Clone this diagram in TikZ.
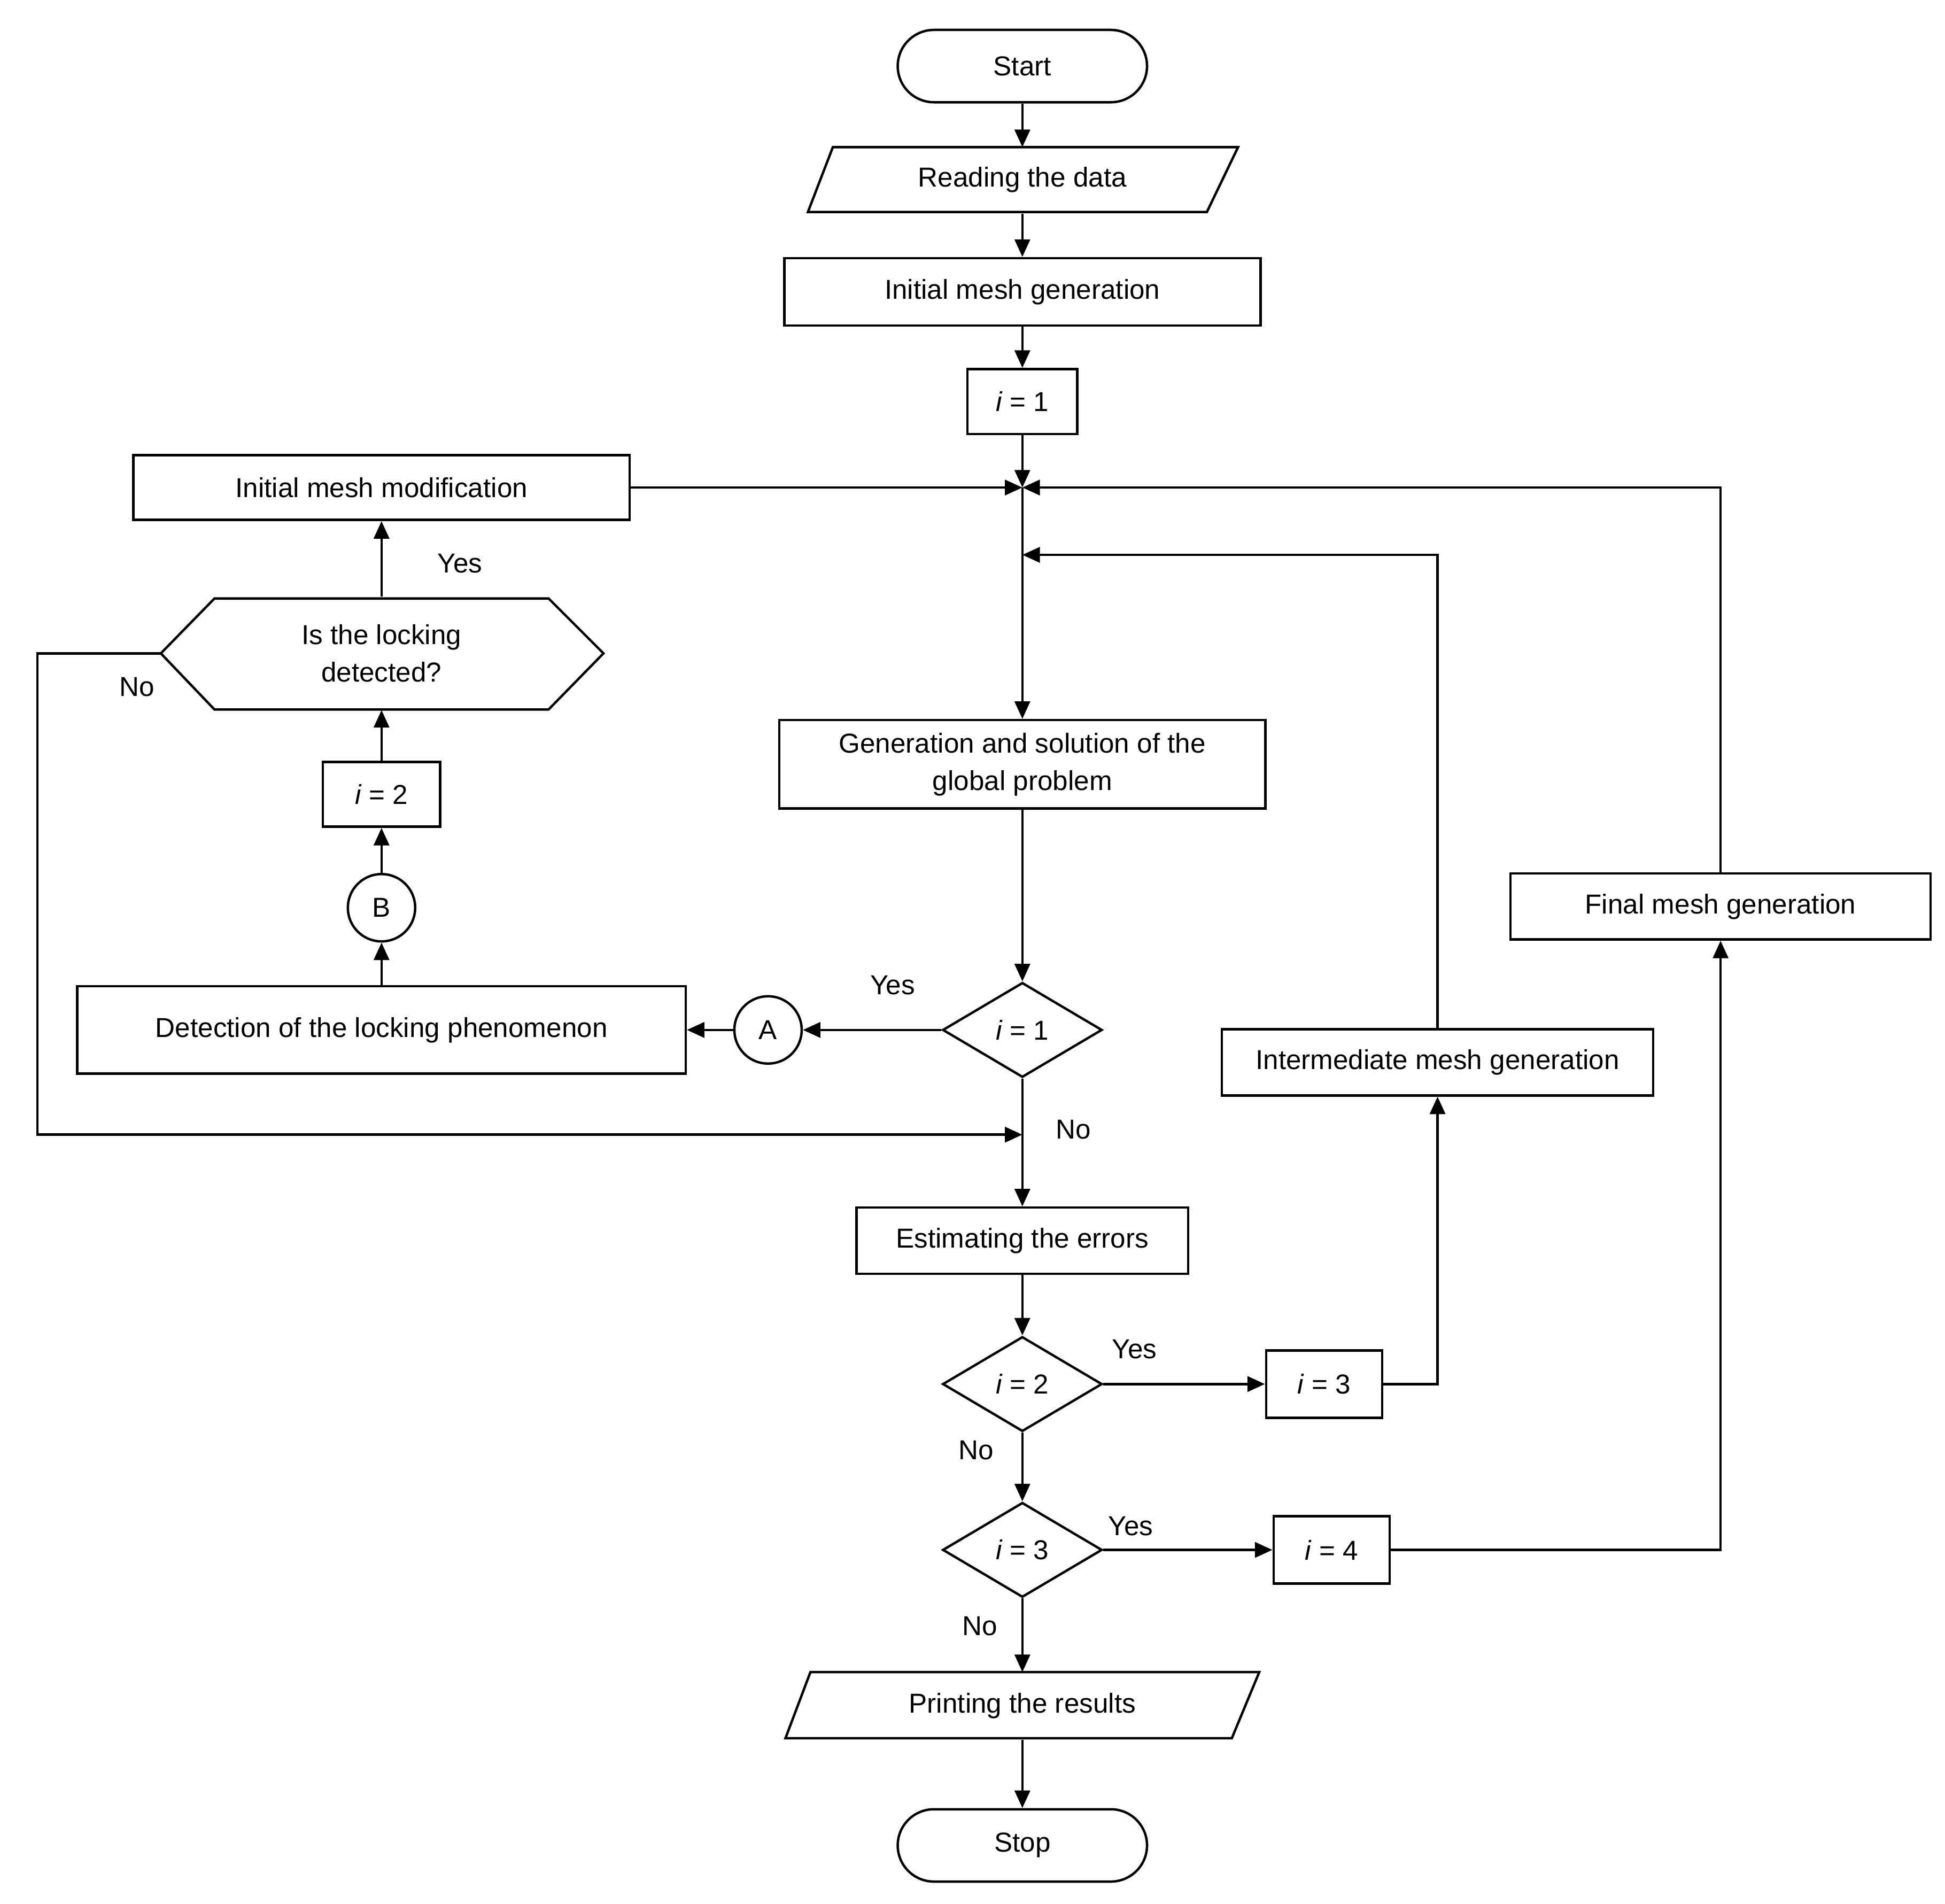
\documentclass[tikz,border=0pt]{standalone}
\usepackage{fontspec}
\setmainfont{Liberation Sans}
\usetikzlibrary{shapes,arrows,arrows.meta,fit,positioning}

\begin{document}
\begin{tikzpicture}[x=0.02cm,y=-0.02cm,% styles for all boxes and lines
		every node/.style={
			align=center,		% "\\" for line breaks
			font=\fontsize{12.5}{17}\selectfont,
			inner sep=0pt
		},
		line width=1.1pt,
		box/.style={rectangle,draw},
		term/.style={rectangle,rounded corners=0.58cm,draw,minimum width=4cm,minimum height=1.16cm},
		io/.style={rectangle,minimum height=1.06cm},
		cond/.style={diamond,draw,aspect=1.7,minimum width=2.56cm,minimum height=1.52cm},
		conn/.style={circle,draw,minimum size=1.08cm},
		lbl/.style={},
		arr/.style={-{Triangle[length=8pt,width=7pt]}}
	]
	\useasboundingbox (0,0) rectangle (1560,1527);
	% main column
	\node[term](Start) at (820,53){Start};
	\node[io,minimum width=6.1cm](Read) at (820,144){Reading the data};
	\draw (668,118) -- (993,118) -- (968,170) -- (648,170) -- cycle;
	\node[box,minimum width=7.64cm,minimum height=1.08cm](InitMesh) at (820,234){Initial mesh generation};
	\node[box,minimum width=1.76cm,minimum height=1.04cm](I1) at (820,322){\textit{i} = 1};
	\coordinate (J1) at (820,391);
	\coordinate (J2) at (820,445);
	\node[box,minimum width=7.8cm,minimum height=1.42cm](Gen) at (820,613){Generation and solution of the\\global problem};
	\node[cond](D1) at (820,826){\textit{i} = 1};
	\node[box,minimum width=5.32cm,minimum height=1.06cm](Est) at (820,995){Estimating the errors};
	\node[cond](D2) at (820,1110){\textit{i} = 2};
	\node[cond](D3) at (820,1243){\textit{i} = 3};
	\node[io,minimum width=7.6cm](Print) at (820,1368){Printing the results};
	\draw (650,1341) -- (1010,1341) -- (988,1394) -- (630,1394) -- cycle;
	\node[term](Stop) at (820,1480){Stop};
	% left branch
	\node[conn](A) at (616,826){A};
	\node[box,minimum width=9.76cm,minimum height=1.4cm](Detect) at (306,826){Detection of the locking phenomenon};
	\node[conn](B) at (306,728){B};
	\node[box,minimum width=1.88cm,minimum height=1.04cm](I2) at (306,637){\textit{i} = 2};
	\node[minimum width=7.1cm,minimum height=1.78cm](Lock) at (306,524){Is the locking\\detected?};
	\draw (129,524) -- (172,480) -- (440,480) -- (484,524) -- (440,569) -- (172,569) -- cycle;
	\coordinate (LockW) at (129,524);
	\node[box,minimum width=7.96cm,minimum height=1.04cm](Modif) at (306,391){Initial mesh modification};
	% right branch
	\node[box,minimum width=1.86cm,minimum height=1.08cm](I3) at (1062,1110){\textit{i} = 3};
	\node[box,minimum width=1.86cm,minimum height=1.08cm](I4) at (1068,1243){\textit{i} = 4};
	\node[box,minimum width=6.92cm,minimum height=1.06cm](Inter) at (1153,852){Intermediate mesh generation};
	\node[box,minimum width=6.74cm,minimum height=1.06cm](Final) at (1380,727){Final mesh generation};
	% connectors
	\draw[arr] (Start) -- (Read.north |- 0,118);
	\draw[arr] (Read.south) -- (InitMesh);
	\draw[arr] (InitMesh) -- (I1);
	\draw[arr] (I1) -- (J1);
	\draw[arr] (J1) -- (Gen);
	\draw[arr] (Modif) -- (J1);
	\draw[arr] (Final.north) |- (J1);
	\draw[arr] (Inter.north) |- (J2);
	\draw[arr] (Gen) -- (D1);
	\draw[arr] (D1) -- (A);
	\draw[arr] (A) -- (Detect);
	\draw[arr] (Detect) -- (B);
	\draw[arr] (B) -- (I2);
	\draw[arr] (I2) -- (Lock.south);
	\draw[arr] (Lock.north) -- (Modif);
	\draw[arr] (LockW) -- (30,524) -- (30,910) -- (820,910);
	\draw[arr] (D1) -- (Est);
	\draw[arr] (Est) -- (D2);
	\draw[arr] (D2) -- (I3);
	\draw[arr] (I3.east) -| (Inter.south);
	\draw[arr] (D2) -- (D3);
	\draw[arr] (D3) -- (I4);
	\draw[arr] (I4.east) -| (Final.south);
	\draw[arr] (D3) -- (Print.north |- 0,1341);
	\draw[arr] (Print.south) -- (Stop);
	% labels
	\node[lbl] at (716,790){Yes};
	\node[lbl] at (369,452){Yes};
	\node[lbl] at (110,551){No};
	\node[lbl] at (861,906){No};
	\node[lbl] at (910,1082){Yes};
	\node[lbl] at (783,1163){No};
	\node[lbl] at (907,1224){Yes};
	\node[lbl] at (786,1304){No};
\end{tikzpicture}
\end{document}
